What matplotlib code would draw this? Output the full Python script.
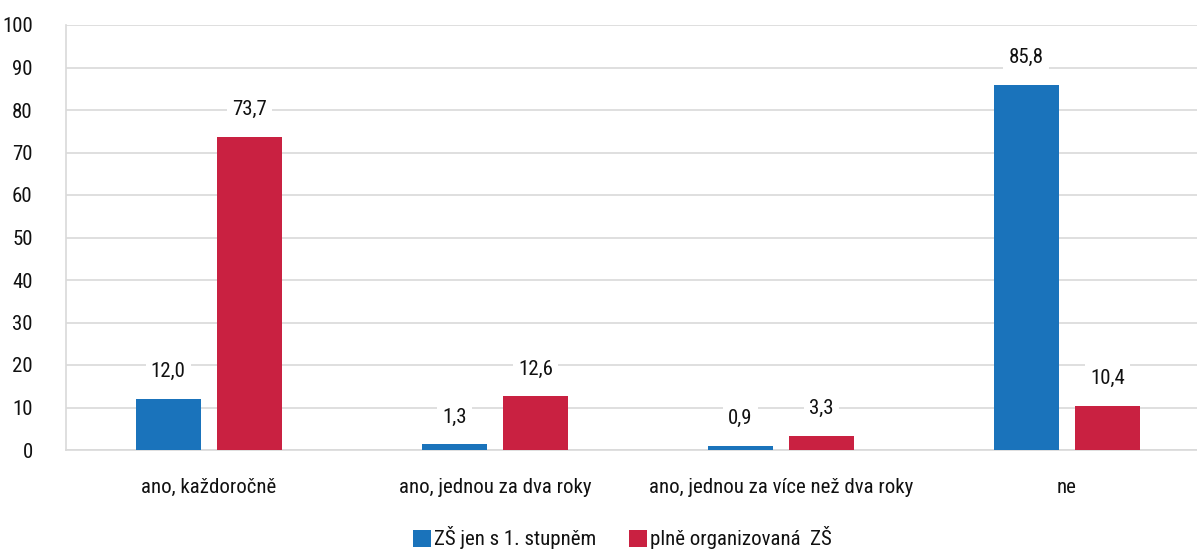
import matplotlib
matplotlib.use("Agg")
import matplotlib.pyplot as plt
import numpy as np
from matplotlib import font_manager as fm

avail = {f.name for f in fm.fontManager.ttflist}
fams = [f for f in ['Liberation Sans Narrow', 'Roboto Condensed', 'Open Sans Condensed', 'DejaVu Sans'] if f in avail]
plt.rcParams['font.family'] = fams
plt.rcParams['font.stretch'] = 'condensed'

categories = ["ano, každoročně", "ano, jednou za dva roky", "ano, jednou za více než dva roky", "ne"]
series_names = ["ZŠ jen s 1. stupněm", "plně organizovaná  ZŠ"]
zs1 = [12.0, 1.3, 0.9, 85.8]
zs_full = [73.7, 12.6, 3.3, 10.4]
yticks = [0, 10, 20, 30, 40, 50, 60, 70, 80, 90, 100]

colors = ["#1a73bb", "#c92141"]

fig = plt.figure(figsize=(11.97, 5.49), dpi=100)
ax = fig.add_axes([66/1197, 1 - 450/549, (1197-66)/1197, (450-25)/549])

x = np.arange(len(categories))
w = 0.227
off = 0.1425
b1 = ax.bar(x - off, zs1, w, color=colors[0], label=series_names[0], zorder=3)
b2 = ax.bar(x + off, zs_full, w, color=colors[1], label=series_names[1], zorder=3)

for bars, vals in ((b1, zs1), (b2, zs_full)):
    for r, v in zip(bars, vals):
        ax.annotate(f"{v:.1f}".replace(".", ","), (r.get_x() + r.get_width()/2, v),
                    xytext=(0, 13), textcoords="offset points", ha="center", va="bottom",
                    fontsize=15, color="#111111", zorder=4,
                    bbox=dict(boxstyle="square,pad=0.25", fc="white", ec="none"))

ax.set_xlim(-0.5, 3.455)
ax.set_ylim(0, 100)
ax.set_yticks(yticks)
ax.set_xticks(x)
ax.set_xticklabels(categories)
ax.tick_params(axis="both", length=0, labelsize=15, colors="#111111")
ax.tick_params(axis="y", pad=24)
ax.tick_params(axis="x", pad=20)
ax.yaxis.grid(True, color="#d9d9d9", linewidth=1.2, zorder=0)
ax.set_axisbelow(True)
for s in ["top", "right"]:
    ax.spines[s].set_visible(False)
for s in ["left", "bottom"]:
    ax.spines[s].set_color("#d9d9d9")
    ax.spines[s].set_linewidth(1.2)

leg = fig.legend(loc="lower center", bbox_to_anchor=(0.52, -0.035), ncol=2, frameon=False,
                 fontsize=15, handlelength=0.85, handleheight=0.85, handletextpad=0.15,
                 columnspacing=1.55)
for t in leg.get_texts():
    t.set_color("#111111")

fig.savefig("out.png", dpi=100)
